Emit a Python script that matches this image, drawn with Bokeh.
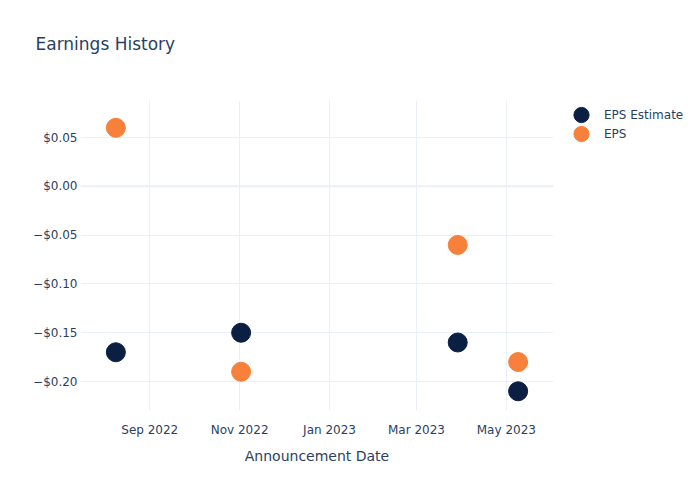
import pandas as pd
from bokeh.plotting import figure
from bokeh.models import (ColumnDataSource, FixedTicker, CustomJSTickFormatter,
                          DatetimeTickFormatter, Range1d, Legend, LegendItem, Span, Title)
from bokeh.embed import file_html
from bokeh.resources import INLINE

dates = ["2022-08-09", "2022-11-02", "2023-03-29", "2023-05-09"]
eps_estimate = [-0.17, -0.15, -0.16, -0.21]
eps_actual = [0.06, -0.19, -0.06, -0.18]
y_ticks = [-0.20, -0.15, -0.10, -0.05, 0.0, 0.05]
x_tick_dates = ["2022-09-01", "2022-11-01", "2023-01-01", "2023-03-01", "2023-05-01"]

FONT = "DejaVu Sans"
TXT = "#2a3f5f"
GRID = "#ebf0f8"

dt = pd.to_datetime(dates)
src = ColumnDataSource(dict(x=dt, est=eps_estimate, eps=eps_actual))

p = figure(frame_width=473, frame_height=310, output_backend="svg", toolbar_location=None,
           x_axis_type="datetime",
           x_range=Range1d(pd.Timestamp("2022-07-16"), pd.Timestamp("2023-06-02")),
           y_range=Range1d(-0.2297, 0.088),
           min_border_left=80, min_border_right=147, min_border_top=100,
           min_border_bottom=90)
p.outline_line_color = None
p.background_fill_color = "white"
p.border_fill_color = "white"
p.title = None

spacer = Title(text=" ", text_font=FONT, text_font_size="17px", standoff=25)
title = Title(text="Earnings History", text_font=FONT, text_font_size="17px",
              text_font_style="normal", text_color=TXT, align="left",
              offset=-45, standoff=0)
p.add_layout(spacer, "above")
p.add_layout(title, "above")

r1 = p.ellipse("x", "est", source=src, width=19, height=19,
               width_units="screen", height_units="screen",
               color="#0b1f42", line_color="#0b1f42")
r2 = p.ellipse("x", "eps", source=src, width=19, height=19,
               width_units="screen", height_units="screen",
               color="#f7803a", line_color="#f7803a")

p.xaxis.ticker = FixedTicker(ticks=[pd.Timestamp(d).value / 1e6 for d in x_tick_dates])
p.xaxis.formatter = DatetimeTickFormatter(months="%b %Y", days="%b %Y")
p.yaxis.ticker = FixedTicker(ticks=y_ticks)
p.yaxis.formatter = CustomJSTickFormatter(code="""
const a = Math.abs(tick).toFixed(2);
return (tick < -1e-9 ? "\\u2212$" : "$") + a;
""")

for ax in (p.xaxis[0], p.yaxis[0]):
    ax.axis_line_color = None
    ax.major_tick_line_color = None
    ax.minor_tick_line_color = None
    ax.major_tick_out = 0
    ax.major_tick_in = 0
    ax.major_label_text_font = FONT
    ax.major_label_text_font_size = "12px"
    ax.major_label_text_color = TXT

p.xaxis.major_label_standoff = 12
p.yaxis.major_label_standoff = 3
p.xaxis.axis_label = "Announcement Date"
p.xaxis.axis_label_text_font = FONT
p.xaxis.axis_label_text_font_size = "14px"
p.xaxis.axis_label_text_font_style = "normal"
p.xaxis.axis_label_text_color = TXT
p.xaxis.axis_label_standoff = 8

p.xgrid.grid_line_color = GRID
p.ygrid.grid_line_color = GRID
p.xgrid.grid_line_width = 1
p.ygrid.grid_line_width = 1
p.add_layout(Span(location=0, dimension="width", line_color=GRID, line_width=2))

legend = Legend(items=[LegendItem(label="EPS Estimate", renderers=[r1]),
                       LegendItem(label="EPS", renderers=[r2])],
                location="top_left")
legend.border_line_color = None
legend.background_fill_alpha = 0
legend.padding = 0
legend.margin = 5
legend.spacing = 0
legend.label_height = 19
legend.glyph_height = 19
legend.glyph_width = 46
legend.label_standoff = 0
legend.label_text_font = FONT
legend.label_text_font_size = "12px"
legend.label_text_color = TXT
p.add_layout(legend, "right")

open("out.html", "w").write(file_html(p, INLINE))
